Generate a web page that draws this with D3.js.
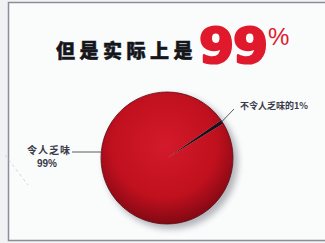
<!DOCTYPE html>
<html>
<head>
<meta charset="utf-8">
<script src="https://cdn.jsdelivr.net/npm/d3@7"></script>
<style>
  body { margin: 0; background: #eef0f1; }
  svg { display: block; }
</style>
</head>
<body>
<svg id="chart"></svg>
<script>
// data
const categories = ["不令人乏味的", "令人乏味"];
const values = [1, 99];
const labels = ["不令人乏味的1%", "令人乏味|99%"];
const titleText = "但是实际上是";
const titleNum = "99";

const width = 325, height = 243;
const cx = 167, cy = 158, radius = 66;

const svg = d3.select("#chart")
    .attr("width", width)
    .attr("height", height);

const defs = svg.append("defs");

const grad = defs.append("radialGradient")
    .attr("id", "redGrad")
    .attr("cx", "48%").attr("cy", "40%").attr("r", "62%");
grad.append("stop").attr("offset", "0%").attr("stop-color", "#d31a2a");
grad.append("stop").attr("offset", "65%").attr("stop-color", "#c0101e");
grad.append("stop").attr("offset", "100%").attr("stop-color", "#7c0812");

const blur = defs.append("filter").attr("id", "shadow")
    .attr("x", "-20%").attr("y", "-20%").attr("width", "140%").attr("height", "140%");
blur.append("feGaussianBlur").attr("stdDeviation", 3);

// paper background and frame
svg.append("rect")
    .attr("x", 0).attr("y", 0)
    .attr("width", width).attr("height", height)
    .attr("fill", "#f1f2f3");

svg.append("rect")
    .attr("x", 8.5).attr("y", 2.5)
    .attr("width", 330).attr("height", 238)
    .attr("fill", "#fafbfb")
    .attr("stroke", "#8a8e99")
    .attr("stroke-width", 1.5);

// faint dashed diagonal
svg.append("line")
    .attr("x1", 5).attr("y1", 155)
    .attr("x2", 28).attr("y2", 185)
    .attr("stroke", "#c9cbd0")
    .attr("stroke-width", 0.8)
    .attr("stroke-dasharray", "3,3");

// title
svg.append("text")
    .attr("x", 56)
    .attr("y", 58)
    .attr("font-family", "Noto Sans CJK SC")
    .attr("font-weight", 900)
    .attr("font-size", 19)
    .attr("letter-spacing", 4.5)
    .attr("fill", "#15161c")
    .attr("stroke", "#15161c")
    .attr("stroke-width", 0.5)
    .text(titleText);

svg.append("text")
    .attr("x", 199)
    .attr("y", 63)
    .attr("font-family", "Liberation Sans Narrow, DejaVu Sans Condensed, sans-serif")
    .attr("font-weight", 700)
    .attr("font-size", 50)
    .attr("letter-spacing", -1)
    .attr("fill", "#e0192c")
    .attr("stroke", "#e0192c")
    .attr("stroke-width", 2.2)
    .attr("stroke-linejoin", "round")
    .attr("transform", "translate(199,63) scale(1.12,1) translate(-199,-63)")
    .text(titleNum);

svg.append("text")
    .attr("x", 268)
    .attr("y", 45)
    .attr("font-family", "Liberation Sans, sans-serif")
    .attr("font-size", 24)
    .attr("fill", "#e0192c")
    .text("%");

// pie
const pie = d3.pie()
    .sort(null)
    .value(d => d)
    .startAngle(55 * Math.PI / 180)
    .endAngle(55 * Math.PI / 180 + 2 * Math.PI);

const arc = d3.arc().innerRadius(0).outerRadius(radius);

const g = svg.append("g")
    .attr("transform", `translate(${cx},${cy})`);

g.append("circle")
    .attr("cx", 4).attr("cy", 4)
    .attr("r", radius + 1)
    .attr("fill", "#7a7a86")
    .attr("opacity", 0.55)
    .attr("filter", "url(#shadow)");

const colors = ["#15141e", "url(#redGrad)"];

g.selectAll("path")
    .data(pie(values))
    .join("path")
    .attr("d", arc)
    .attr("fill", (d, i) => colors[i]);

g.append("circle")
    .attr("r", radius)
    .attr("fill", "none")
    .attr("stroke", "#5a0a10")
    .attr("stroke-width", 0.8);

// leader lines and labels
const arcs = pie(values);
const small = arcs[0];
const midSmall = (small.startAngle + small.endAngle) / 2;
const ex = cx + Math.sin(midSmall) * (radius - 2);
const ey = cy - Math.cos(midSmall) * (radius - 2);

svg.append("line")
    .attr("x1", ex).attr("y1", ey)
    .attr("x2", 234).attr("y2", 109)
    .attr("stroke", "#30323c")
    .attr("stroke-width", 0.8);

svg.append("text")
    .attr("x", 240)
    .attr("y", 109)
    .attr("font-family", "Noto Sans CJK SC")
    .attr("font-size", 9)
    .attr("font-weight", 700)
    .attr("fill", "#3a3c4a")
    .text(labels[0]);

svg.append("line")
    .attr("x1", 72).attr("y1", 152)
    .attr("x2", cx - radius).attr("y2", 152)
    .attr("stroke", "#30323c")
    .attr("stroke-width", 0.8);

const leftLines = labels[1].split("|");
svg.append("text")
    .attr("x", 27)
    .attr("y", 154)
    .attr("font-family", "Noto Sans CJK SC")
    .attr("font-size", 10)
    .attr("font-weight", 700)
    .attr("letter-spacing", 1)
    .attr("fill", "#3a3c4a")
    .text(leftLines[0]);

svg.append("text")
    .attr("x", 37)
    .attr("y", 167)
    .attr("font-family", "Liberation Sans, sans-serif")
    .attr("font-size", 10)
    .attr("font-weight", 700)
    .attr("fill", "#3a3c4a")
    .text(leftLines[1]);
</script>
</body>
</html>
